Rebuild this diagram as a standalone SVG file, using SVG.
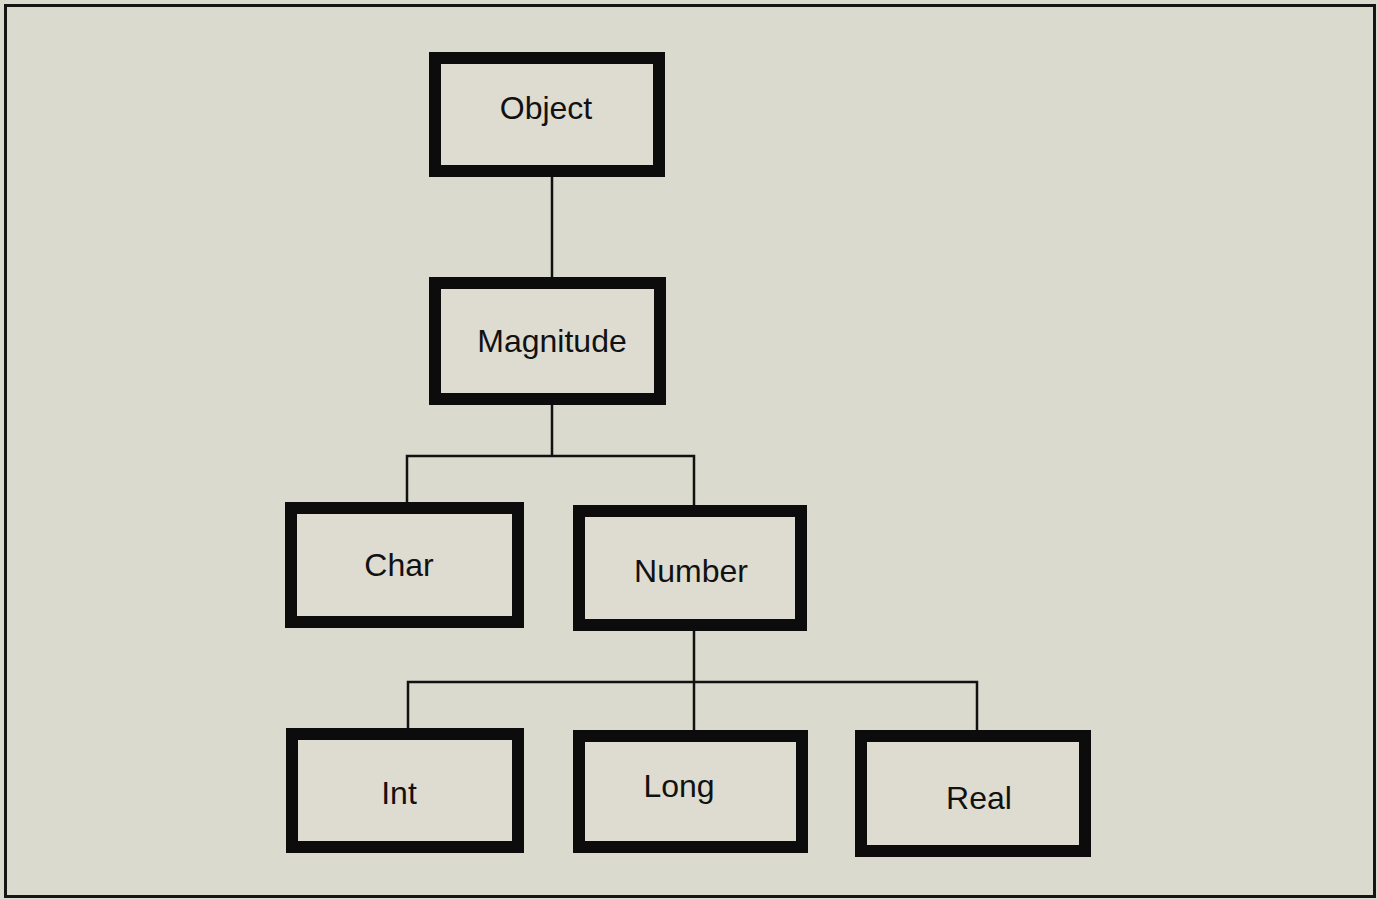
<svg xmlns="http://www.w3.org/2000/svg" width="1378" height="899" viewBox="0 0 1378 899">
<style>
.box{fill:#dedcd1;stroke:#0c0c0c;stroke-width:12}
.lbl{font-family:"Liberation Sans",Arial,sans-serif;font-size:32px;fill:#111;text-anchor:middle}
.con{stroke:#111;stroke-width:2.5;fill:none}
</style>
<rect x="0" y="0" width="1378" height="899" fill="#dbdace"/>
<rect x="5.5" y="5.5" width="1369" height="891" fill="#dbdace" stroke="#151515" stroke-width="3"/>
<g id="connectors">
<path class="con" d="M552 177V277"/>
<path class="con" d="M552 405V456M407 502V456H694V505"/>
<path class="con" d="M694 631V682M408 728V682H977V730M694 682V730"/>
</g>
<g id="object"><rect class="box" x="435" y="58" width="224" height="113"/><text class="lbl" x="546" y="119">Object</text></g>
<g id="magnitude"><rect class="box" x="435" y="283" width="225" height="116"/><text class="lbl" x="552" y="352">Magnitude</text></g>
<g id="char"><rect class="box" x="291" y="508" width="227" height="114"/><text class="lbl" x="399" y="576">Char</text></g>
<g id="number"><rect class="box" x="579" y="511" width="222" height="114"/><text class="lbl" x="691" y="582">Number</text></g>
<g id="int"><rect class="box" x="292" y="734" width="226" height="113"/><text class="lbl" x="399" y="804">Int</text></g>
<g id="long"><rect class="box" x="579" y="736" width="223" height="111"/><text class="lbl" x="679" y="797">Long</text></g>
<g id="real"><rect class="box" x="861" y="736" width="224" height="115"/><text class="lbl" x="979" y="809">Real</text></g>
</svg>
